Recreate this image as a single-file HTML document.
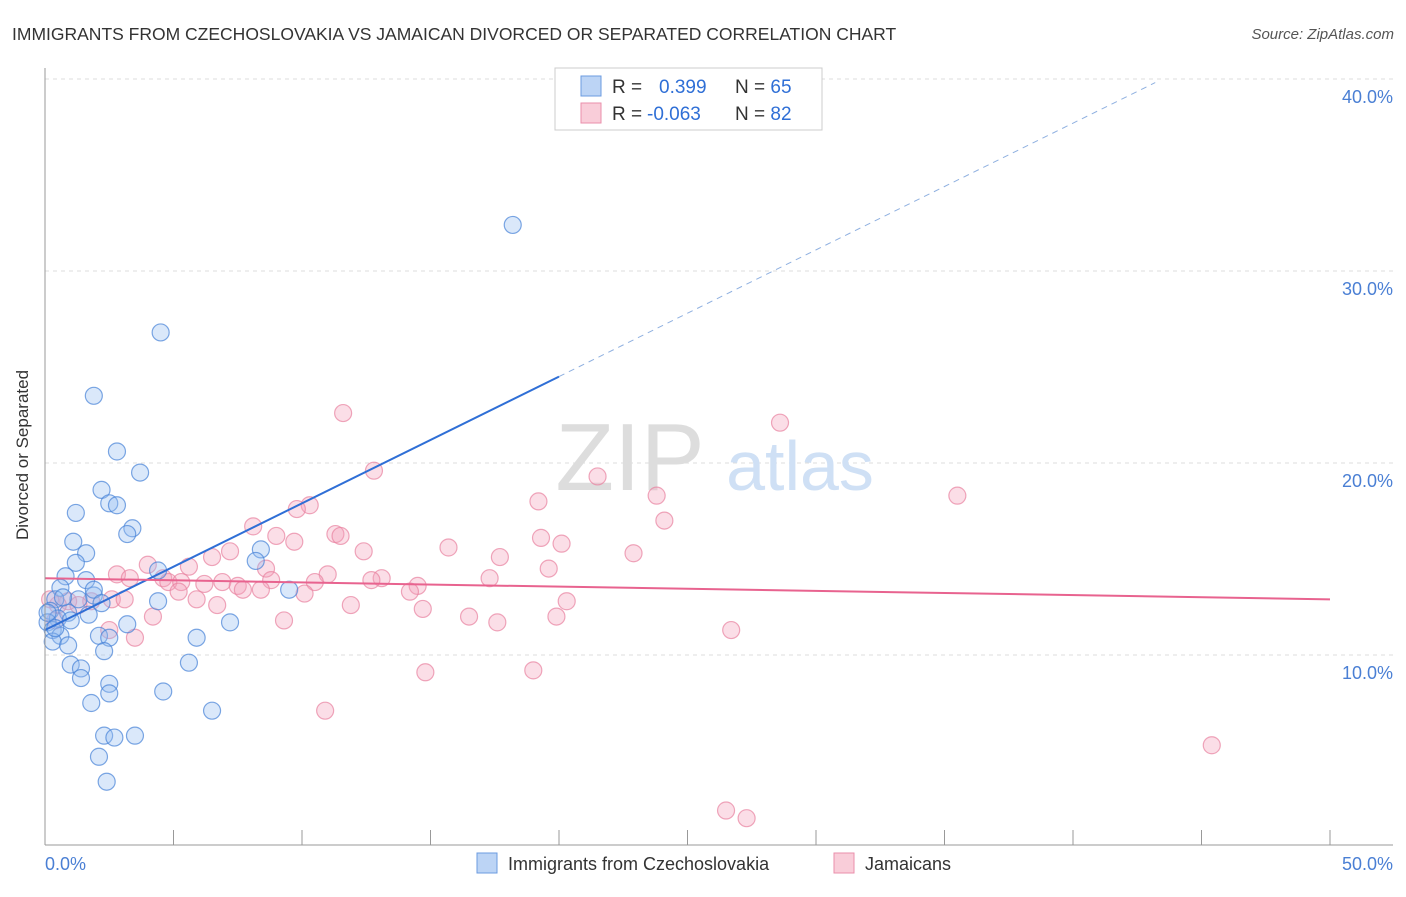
<!DOCTYPE html>
<html><head><meta charset="utf-8"><style>
body{margin:0;background:#fff;font-family:"Liberation Sans",sans-serif;}
svg text{font-family:"Liberation Sans",sans-serif;}
</style></head><body>
<svg width="1406" height="892" xmlns="http://www.w3.org/2000/svg">
<text x="12" y="40" font-size="17.5" fill="#333">IMMIGRANTS FROM CZECHOSLOVAKIA VS JAMAICAN DIVORCED OR SEPARATED CORRELATION CHART</text>
<text x="1394" y="39" font-size="15" fill="#555" font-style="italic" text-anchor="end">Source: ZipAtlas.com</text>
<g id="grid"></g>
<text x="630" y="490" font-size="96" fill="#ddd" font-family="Liberation Serif" text-anchor="middle">ZIP</text>
<text x="800" y="490" font-size="70" fill="#cfe0f5" text-anchor="middle">atlas</text>
<g id="pts"></g>
<g id="lines"></g>
<line x1="45" y1="68" x2="45" y2="845" stroke="#999"/>
<line x1="45" y1="845" x2="1393" y2="845" stroke="#999"/>
<text x="28" y="455" font-size="17" fill="#333" transform="rotate(-90 28 455)" text-anchor="middle">Divorced or Separated</text>
<text x="45" y="870" font-size="18" fill="#4a7fd4">0.0%</text>
<text x="1393" y="870" font-size="18" fill="#4a7fd4" text-anchor="end">50.0%</text>
<g>
<rect x="555" y="68" width="267" height="62" fill="#fff" stroke="#ccc"/>
<rect x="581" y="76" width="20" height="20" fill="#bcd4f5" stroke="#6b9be0"/>
<rect x="581" y="103" width="20" height="20" fill="#f9cdd9" stroke="#ea8fab"/>
<text x="612" y="93" font-size="19" fill="#333">R = <tspan fill="#2f6fd6" x="659">0.399</tspan><tspan x="735">N = </tspan><tspan fill="#2f6fd6">65</tspan></text>
<text x="612" y="120" font-size="19" fill="#333">R = <tspan fill="#2f6fd6" x="647">-0.063</tspan><tspan x="735">N = </tspan><tspan fill="#2f6fd6">82</tspan></text>
</g>
<g>
<rect x="477" y="853" width="20" height="20" fill="#bcd4f5" stroke="#6b9be0"/>
<text x="508" y="870" font-size="18" fill="#333">Immigrants from Czechoslovakia</text>
<rect x="834" y="853" width="20" height="20" fill="#f9cdd9" stroke="#ea8fab"/>
<text x="865" y="870" font-size="18" fill="#333">Jamaicans</text>
</g>
</svg>
<script>
const yTicks=[10,20,30,40];
const xTicks=[5,10,15,20,25,30,35,40,45,50];
const blueX=[18.2,4.5,1.9,2.8,3.7,2.2,2.5,2.8,1.2,3.4,3.2,1.1,1.6,8.4,1.2,8.2,0.8,1.6,4.4,0.6,9.5,1.9,4.4,1.3,0.4,0.2,0.9,1.7,0.5,0.1,1.0,7.2,3.2,0.3,0.6,2.1,5.9,2.5,0.3,0.9,2.3,5.6,1.0,1.4,1.4,2.5,2.5,4.6,1.8,6.5,2.3,2.7,3.5,2.1,2.4,0.1,0.4,0.7,1.9,2.2];
const blueY=[32.4,26.8,23.5,20.6,19.5,18.6,17.9,17.8,17.4,16.6,16.3,15.9,15.3,15.5,14.8,14.9,14.1,13.9,14.4,13.5,13.4,13.1,12.8,12.9,12.9,12.3,12.2,12.1,11.9,11.7,11.8,11.7,11.6,11.3,11.0,11.0,10.9,10.9,10.7,10.5,10.2,9.6,9.5,9.3,8.8,8.5,8.0,8.1,7.5,7.1,5.8,5.7,5.8,4.7,3.4,12.2,11.4,13.0,13.4,12.7];
const pinkX=[11.6,28.6,12.8,21.5,35.5,19.2,23.8,10.3,9.8,24.1,8.1,11.3,11.5,9.0,19.3,20.1,9.7,15.7,7.2,6.5,12.4,22.9,17.7,4.0,5.6,8.6,19.6,2.8,3.3,11.0,17.3,13.1,12.7,4.6,4.8,5.3,8.8,6.9,7.5,6.2,10.5,5.2,7.7,8.4,14.5,14.2,10.1,5.9,2.6,3.1,1.8,0.9,0.5,1.3,20.3,11.9,6.7,14.7,4.2,16.5,19.9,9.3,17.6,2.5,3.5,26.7,14.8,19.0,10.9,45.4,26.5,27.3,0.2,0.4];
const pinkY=[22.6,22.1,19.6,19.3,18.3,18.0,18.3,17.8,17.6,17.0,16.7,16.3,16.2,16.2,16.1,15.8,15.9,15.6,15.4,15.1,15.4,15.3,15.1,14.7,14.6,14.5,14.5,14.2,14.0,14.2,14.0,14.0,13.9,14.0,13.8,13.8,13.9,13.8,13.6,13.7,13.8,13.3,13.4,13.4,13.6,13.3,13.2,12.9,12.9,12.9,12.8,12.8,12.6,12.6,12.8,12.6,12.6,12.4,12.0,12.0,12.0,11.8,11.7,11.3,10.9,11.3,9.1,9.2,7.1,5.3,1.9,1.5,12.9,11.8];
const blueTrend=[11.3,0.66];   // intercept, slope
const pinkTrend=[14.0,-0.022];
const sx=v=>45+v*25.7, sy=v=>847-v*19.2;
const NS='http://www.w3.org/2000/svg';
function mk(tag,attrs,parent){const e=document.createElementNS(NS,tag);for(const k in attrs)e.setAttribute(k,attrs[k]);parent.appendChild(e);return e;}
const grid=document.getElementById('grid');
yTicks.forEach(t=>{
 const l=mk('line',{x1:45,x2:1393,y1:sy(t),y2:sy(t),stroke:'#ddd','stroke-dasharray':'4,4'},grid);
 
 
 const tx=mk('text',{x:1393,y:sy(t)+24,'font-size':18,fill:'#4a7fd4','text-anchor':'end'},grid);
 tx.textContent=t.toFixed(1)+'%';
 
 
});
xTicks.forEach(t=>{
 const l=mk('line',{x1:sx(t),x2:sx(t),y1:830,y2:845,stroke:'#999'},grid);
 
 
});
const pts=document.getElementById('pts');
pinkX.forEach((x,i)=>{
 const c=mk('circle',{cx:sx(x),cy:sy(pinkY[i]),r:8.5,fill:'rgba(244,160,185,0.35)',stroke:'rgba(232,130,160,0.7)','stroke-width':1.2},pts);
 
 
});
blueX.forEach((x,i)=>{
 const c=mk('circle',{cx:sx(x),cy:sy(blueY[i]),r:8.5,fill:'rgba(150,190,240,0.35)',stroke:'rgba(70,130,215,0.7)','stroke-width':1.2},pts);
 
 
});
const lines=document.getElementById('lines');
const bt=x=>blueTrend[0]+blueTrend[1]*x, pt=x=>pinkTrend[0]+pinkTrend[1]*x;
let l=mk('line',{x1:sx(0),y1:sy(bt(0)),x2:sx(20),y2:sy(bt(20)),stroke:'#2f6fd6','stroke-width':2},lines);


l=mk('line',{x1:sx(20),y1:sy(bt(20)),x2:sx(43.2),y2:sy(bt(43.2)),stroke:'#8fb0e0','stroke-width':1,'stroke-dasharray':'6,5'},lines);


l=mk('line',{x1:sx(0),y1:sy(pt(0)),x2:sx(50),y2:sy(pt(50)),stroke:'#e8638f','stroke-width':2},lines);


</script>
</body></html>
